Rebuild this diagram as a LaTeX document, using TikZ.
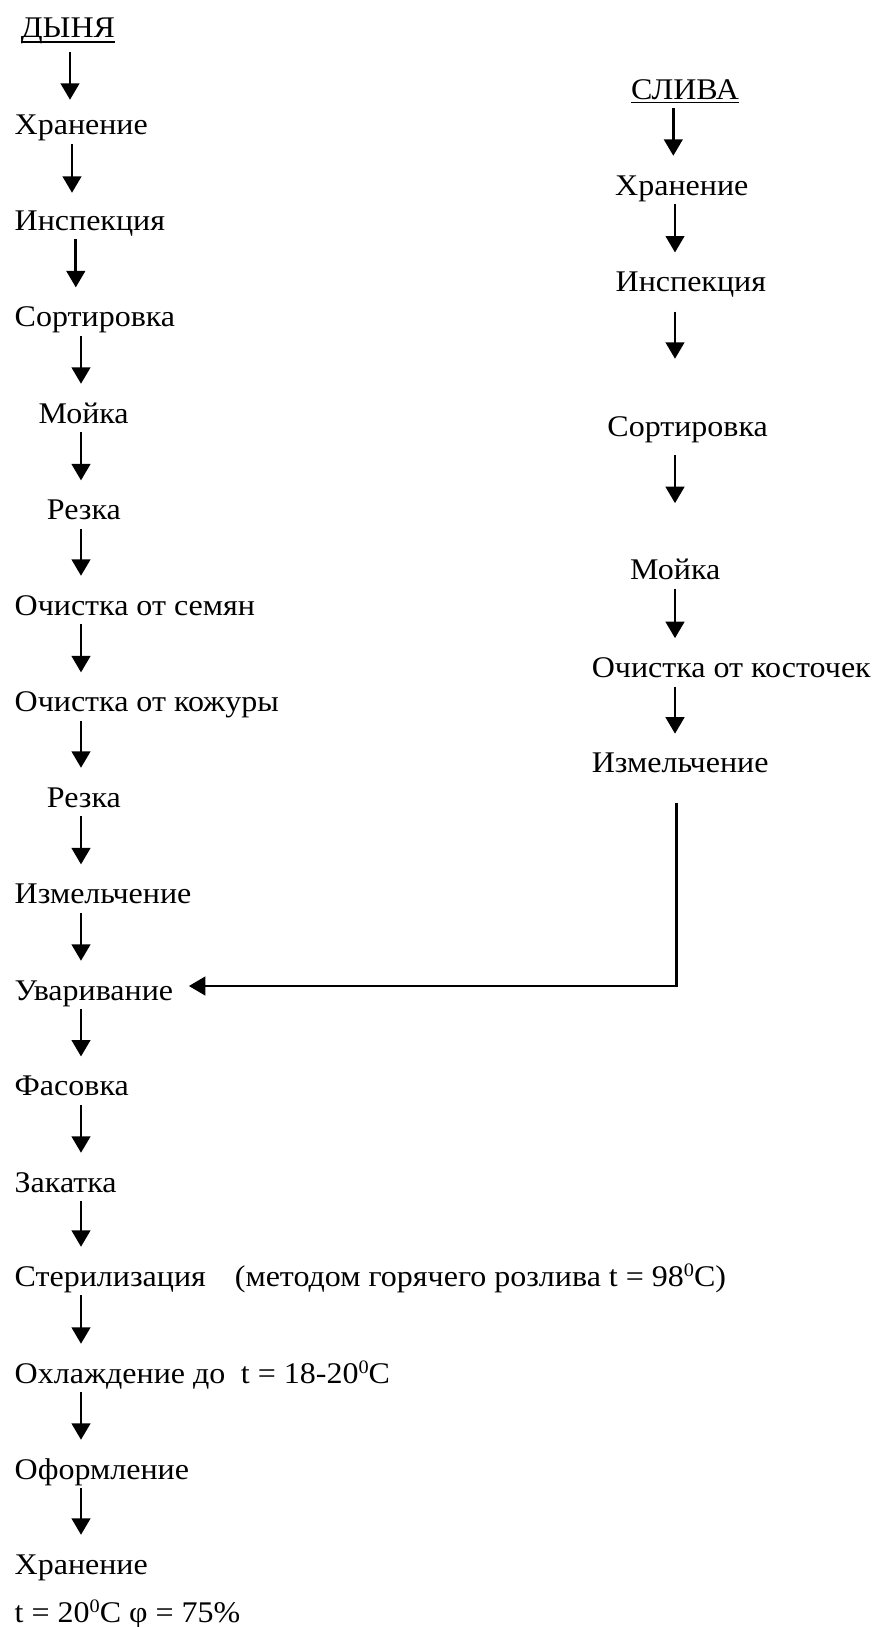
\documentclass[tikz,border=0pt]{standalone}
\usepackage{fontspec}
\setmainfont{Liberation Serif}[FakeStretch=1.067]
\usetikzlibrary{arrows.meta}
\newcommand\supzero{\raisebox{9.5pt}{\fontsize{19}{19}\selectfont 0}}
\begin{document}
\begin{tikzpicture}[x=1pt,y=1pt,
  lbl/.style={inner sep=0pt, anchor=base west, text height=22pt, text depth=9pt, font=\fontsize{30}{36}\selectfont},
  lblc/.style={lbl, anchor=base},
  arr/.style={line width=2.9pt, -{Triangle[width=18.5pt,length=16.5pt]}, shorten >=17pt},
  uline/.style={line width=1.6pt}
]
\useasboundingbox (0,0) rectangle (876,-1627);
\fill[white] (0,0) rectangle (876,-1627);
% x positions of the arrows
\coordinate (cxa) at (70,0);
\coordinate (cxb) at (72,0);
\coordinate (cxc) at (75.8,0);
\coordinate (cx) at (81,0);
\coordinate (rxa) at (673.3,0);
\coordinate (rx) at (675,0);
\coordinate (vx) at (676.7,0);
% left column
\node[lblc] (dn) at (68,-38) {ДЫНЯ};
\node[lbl] (l1) at (14.5,-135) {Хранение};
\node[lbl] (l2) at (14.5,-230) {Инспекция};
\node[lbl] (l3) at (14.5,-326.6) {Сортировка};
\node[lbl] (l4) at (38.4,-423) {Мойка};
\node[lbl] (l5) at (46.7,-519.6) {Резка};
\node[lbl] (l6) at (14.5,-615) {Очистка от семян};
\node[lbl] (l7) at (14.5,-711.6) {Очистка от кожуры};
\node[lbl] (l8) at (46.7,-807) {Резка};
\node[lbl] (l9) at (14.5,-903.6) {Измельчение};
\node[lbl] (l10) at (14.5,-1000) {Уваривание};
\node[lbl] (l11) at (14.5,-1095.7) {Фасовка};
\node[lbl] (l12) at (14.5,-1192) {Закатка};
\node[lbl] (l13) at (14.5,-1286) {Стерилизация\hspace{0.7em} (методом горячего розлива t = 98\supzero С)};
\node[lbl] (l14) at (14.5,-1383) {Охлаждение до\hspace{0.25em} t = 18-20\supzero С};
\node[lbl] (l15) at (14.5,-1479) {Оформление};
\node[lbl] (l16) at (14.5,-1574) {Хранение};
\node[lbl] (l17) at (14.5,-1622) {t = 20\supzero С φ = 75\%};
% right column
\node[lblc] (sl) at (685,-99.3) {СЛИВА};
\node[lbl] (r1) at (615,-195) {Хранение};
\node[lbl] (r2) at (615.5,-291.7) {Инспекция};
\node[lbl] (r3) at (607.2,-436.6) {Сортировка};
\node[lbl] (r4) at (630,-579.8) {Мойка};
\node[lbl] (r5) at (591.6,-677.4) {Очистка от косточек};
\node[lbl] (r6) at (591.6,-772.9) {Измельчение};
% underlines
\draw[uline] ([yshift=-4pt]dn.base west) -- ([yshift=-4pt]dn.base east);
\draw[uline] ([yshift=-3.4pt]sl.base west) -- ([yshift=-3.4pt]sl.base east);
% left arrows
\draw[arr, shorten <=5pt, shorten >=13pt] (dn.south -| cxa) -- (l1.north -| cxa);
\draw[arr, shorten >=15pt] (l1.south -| cxb) -- (l2.north -| cxb);
\draw[arr] (l2.south -| cxc) -- (l3.north -| cxc);
\draw[arr] (l3.south -| cx) -- (l4.north -| cx);
\draw[arr] (l4.south -| cx) -- (l5.north -| cx);
\draw[arr] (l5.south -| cx) -- (l6.north -| cx);
\draw[arr] (l6.south -| cx) -- (l7.north -| cx);
\draw[arr] (l7.south -| cx) -- (l8.north -| cx);
\draw[arr] (l8.south -| cx) -- (l9.north -| cx);
\draw[arr] (l9.south -| cx) -- (l10.north -| cx);
\draw[arr] (l10.south -| cx) -- (l11.north -| cx);
\draw[arr] (l11.south -| cx) -- (l12.north -| cx);
\draw[arr] (l12.south -| cx) -- (l13.north -| cx);
\draw[arr] (l13.south -| cx) -- (l14.north -| cx);
\draw[arr] (l14.south -| cx) -- (l15.north -| cx);
\draw[arr] (l15.south -| cx) -- (l16.north -| cx);
% right arrows
\draw[arr] (sl.south -| rxa) -- (r1.north -| rxa);
\draw[arr] (r1.south -| rx) -- (r2.north -| rx);
\draw[arr, shorten <=10.7pt, shorten >=55.6pt] (r2.south -| rx) -- (r3.north -| rx);
\draw[arr, shorten <=9pt, shorten >=54.4pt] (r3.south -| rx) -- (r4.north -| rx);
\draw[arr] (r4.south -| rx) -- (r5.north -| rx);
\draw[arr] (r5.south -| rx) -- (r6.north -| rx);
% joining connector
\draw[arr, shorten <=20.4pt, shorten >=0pt] (r6.south -| vx) |- ([xshift=15.5pt,yshift=14pt]l10.base east);
\end{tikzpicture}
\end{document}
